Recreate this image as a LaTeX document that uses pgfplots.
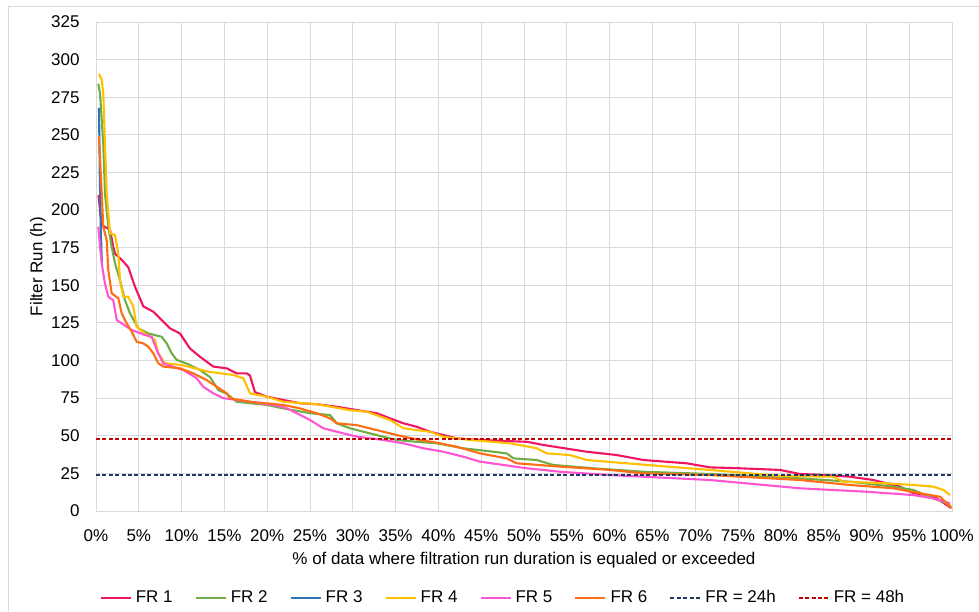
\documentclass[border=0pt]{standalone}
\usepackage{fontspec}
\setmainfont{Liberation Sans}
\usepackage{pgfplots}
\pgfplotsset{compat=1.18}

\definecolor{cfra}{RGB}{240,20,100}
\definecolor{cfrb}{RGB}{112,173,71}
\definecolor{cfrc}{RGB}{46,117,182}
\definecolor{cfrd}{RGB}{255,192,0}
\definecolor{cfre}{RGB}{255,85,210}
\definecolor{cfrf}{RGB}{255,110,20}
\definecolor{cnavy}{RGB}{31,56,100}
\definecolor{cdred}{RGB}{192,0,0}
\definecolor{gridc}{RGB}{217,217,217}

\begin{document}
\begin{tikzpicture}
\useasboundingbox (0,0) rectangle (489.5pt,-305.5pt);
\draw[gridc,line width=0.5pt] (4pt,-305.5pt) -- (4pt,-3pt) -- (489.5pt,-3pt);
\begin{axis}[
  at={(48pt,-255.5pt)}, anchor=south west,
  scale only axis, width=428pt, height=244.5pt,
  xmin=0, xmax=100, ymin=0, ymax=325,
  xtick={0,5,...,100},
  xticklabels={0\%,5\%,10\%,15\%,20\%,25\%,30\%,35\%,40\%,45\%,50\%,55\%,60\%,65\%,70\%,75\%,80\%,85\%,90\%,95\%,100\%},
  ytick={0,25,...,325},
  grid=major,
  major grid style={draw=gridc,line width=0.5pt},
  axis line style={draw=gridc,line width=0.5pt},
  major tick length=0pt,
  every tick label/.append style={font=\fontsize{8.5}{10}\selectfont},
  /pgf/number format/assume math mode=true,
  yticklabel style={inner sep=0pt,xshift=-8pt},
  xticklabel style={inner sep=0pt,yshift=-9pt},
  xlabel={\% of data where filtration run duration is equaled or exceeded},
  ylabel={Filter Run (h)},
  label style={font=\fontsize{8.5}{10}\selectfont},
  xlabel style={at={(axis description cs:0.5,-0.1)},anchor=center},
  ylabel style={at={(axis description cs:-0.0678,0.5)},anchor=center},
  legend columns=8,
  legend style={at={(0.4766,-0.178)},anchor=center,draw=none,fill=none,
    font=\fontsize{8.5}{10}\selectfont,
    /tikz/every even column/.append style={column sep=9pt}},
  legend image code/.code={\draw[#1] (0pt,0pt) -- (15pt,0pt);},
  every axis plot/.append style={line width=1.05pt,line join=round},
]
% FR 1
\addplot[cfra] coordinates {
(0.29,210) (0.47,200) (0.67,190) (1.64,187) (2.0,176) (2.22,171) (3.00,167) (3.77,162)
(4.56,149) (5.53,136) (6.69,132.5) (7.67,127) (8.64,121.4) (9.81,118) (10.98,108)
(12.15,102.5) (13.70,96) (15.27,94.8) (16.44,91.5) (17.60,91.5) (17.99,90) (18.57,79)
(19.94,76) (21.88,73.8) (23.83,71.6) (25.78,71) (28.12,69.3) (30.46,67.1) (32.79,65)
(34.35,61.6) (35.90,58.3) (37.46,56) (39.02,52.7) (40.57,50.5) (42.14,48.3) (44.86,47.2)
(50.32,46) (52.25,43.9) (57.32,39.4) (60.83,37.2) (63.94,33.9) (69.01,31.7) (71.73,29)
(75.23,28.4) (79.91,27.3) (82.24,24.6) (85.36,23.9) (88.08,22.8) (90.81,20.6) (93.93,16.2)
(95.48,11.8) (97.04,10.6) (98.21,8.4) (99.38,4) (99.88,2)};
\addlegendentry{FR 1}
% FR 2
\addplot[cfrb] coordinates {
(0.27,284) (0.47,277.6) (0.85,244) (1.05,211) (1.44,189) (1.83,175.7) (2.22,164.6)
(2.80,153.5) (3.39,140) (3.97,131.4) (4.94,121.4) (6.11,118) (7.68,115.8) (8.26,111.4)
(8.84,104.8) (9.43,100.4) (10.60,98) (12.15,93.7) (13.32,89) (14.29,80.4) (15.27,78)
(16.44,72.6) (19.94,70.5) (21.88,68.2) (25.00,65) (27.34,63.8) (28.12,58.3) (29.67,55)
(31.23,52.7) (33.56,49.4) (35.13,47.2) (37.46,46) (39.80,45) (42.91,41.7) (46.41,39.4)
(47.98,38.3) (48.75,35) (51.48,33.9) (53.42,30.6) (58.10,28.4) (63.94,26.1) (71.73,24.6)
(82.24,21.7) (88.08,19.5) (93.14,16.2) (95.48,14) (97.81,8.4) (99.38,5.1) (99.88,3)};
\addlegendentry{FR 2}
% FR 3
\addplot[cfrc] coordinates {
(0.35,268) (0.45,220) (0.55,190) (0.65,170) (0.70,165)};
\addlegendentry{FR 3}
% FR 4
\addplot[cfrd] coordinates {
(0.35,290.5) (0.67,286.5) (0.85,277.6) (1.05,244) (1.25,211) (1.64,184.6) (2.22,183.4)
(2.61,171) (2.80,153.5) (3.19,142.4) (3.77,142.4) (4.36,135.8) (4.75,122.5) (5.72,118)
(6.89,113.7) (7.28,104.8) (8.06,98.2) (10.01,97) (13.12,92.6) (16.04,90.4) (17.21,88.2)
(17.99,78.2) (19.94,76) (21.88,72.6) (25.78,71) (29.67,67) (31.62,66) (34.35,60.5)
(35.90,55) (37.46,53.8) (39.02,52.7) (40.57,49.4) (43.69,47.2) (48.36,45) (51.48,41.7)
(52.65,38.3) (55.37,37.2) (57.32,33.9) (62.00,31.7) (65.89,29.9) (71.73,27.3) (79.91,23.3)
(86.13,22.8) (87.30,19.5) (92.37,18.4) (95.48,17.3) (97.81,16.2) (98.98,14) (99.77,10.6)};
\addlegendentry{FR 4}
% FR 5
\addplot[cfre] coordinates {
(0.27,189) (0.47,175.7) (0.67,164.6) (1.05,151) (1.44,142.4) (2.02,140) (2.42,127)
(3.00,124.7) (4.17,120.3) (5.72,117) (6.51,115.8) (7.09,107) (7.86,98) (10.20,93.7)
(11.76,88.2) (12.53,82.6) (13.70,78.2) (14.87,75) (17.99,72.6) (19.94,71) (21.88,69.3)
(23.45,65) (25.00,60.5) (26.55,55) (28.12,52.7) (30.46,49.4) (33.56,47.2) (35.90,45)
(38.24,41.7) (40.57,39.4) (42.91,36.1) (44.86,32.8) (50.32,28.4) (54.21,26.1) (60.05,23.9)
(71.73,20.6) (82.24,15.1) (90.04,12.8) (95.48,10.6) (97.81,8.4) (99.77,5.1)};
\addlegendentry{FR 5}
% FR 6
\addplot[cfrf] coordinates {
(0.35,249) (0.67,211) (0.85,189) (1.25,180) (1.44,160) (1.83,144.7) (2.61,141.4)
(3.00,131.4) (3.59,124.7) (4.17,119.2) (4.75,112.5) (5.53,111.4) (6.11,109.2) (6.69,104.8)
(7.28,98.2) (7.86,96) (9.81,94.8) (11.37,91.5) (12.93,87) (14.10,82.6) (15.27,78.2)
(15.65,74.9) (17.99,72.6) (21.88,70.5) (23.83,68.2) (25.78,65) (27.34,61.6) (28.12,58.3)
(30.46,57.1) (33.56,52.7) (35.13,50.5) (37.46,47.6) (39.80,45.4) (42.14,42.7) (44.86,38.3)
(47.98,35) (49.15,31.7) (54.21,29.5) (60.05,27.3) (63.96,25) (71.73,23.9) (82.24,20.6)
(88.08,17.3) (93.14,15.1) (96.26,11.8) (98.60,9.5) (99.38,5.1) (99.96,1.8)};
\addlegendentry{FR 6}
% thresholds
\addplot[cnavy,line width=1pt,dash pattern=on 2pt off 1.2pt] coordinates {(0,24) (100,24)};
\addlegendentry{FR = 24h}
\addplot[cdred,line width=1pt,dash pattern=on 2pt off 1.2pt] coordinates {(0,48) (100,48)};
\addlegendentry{FR = 48h}
\end{axis}
\end{tikzpicture}
\end{document}
